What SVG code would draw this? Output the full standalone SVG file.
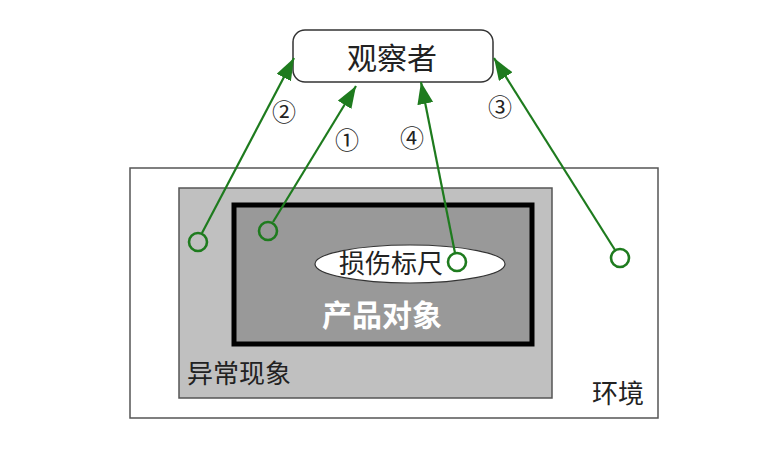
<svg xmlns="http://www.w3.org/2000/svg" width="779" height="449" viewBox="0 0 779 449">
<style>
.cjk{font-family:"Noto Sans CJK SC","Noto Sans",sans-serif;font-weight:400;}
.lbl{font-family:"Noto Sans CJK SC","DejaVu Sans",sans-serif;font-size:24px;fill:#222;font-weight:400;}
.conn{stroke:#1e7b1e;stroke-width:2.2;fill:none;}
.end{stroke:#1e7b1e;stroke-width:2.6;fill:none;}
</style>
<defs>
<marker id="arr" markerUnits="userSpaceOnUse" markerWidth="24" markerHeight="18" refX="22" refY="8" orient="auto">
<path d="M0,0 L22,8 L0,16 Z" fill="#1e7b1e"/>
</marker>
</defs>
<rect width="779" height="449" fill="#fff"/>
<g id="environment">
<rect x="130" y="168" width="528" height="250" fill="#fff" stroke="#555" stroke-width="1.5"/>
<text class="cjk" x="592" y="403" font-size="26" fill="#222">环境</text>
</g>
<g id="anomaly">
<rect x="179" y="188" width="373" height="210" fill="#c0c0c0" stroke="#555" stroke-width="1.5"/>
<text class="cjk" x="187" y="383" font-size="26" fill="#222">异常现象</text>
</g>
<g id="product">
<rect x="234" y="205" width="298" height="139" fill="#999" stroke="#000" stroke-width="5"/>
<text x="382" y="326" font-family="Noto Sans CJK SC, sans-serif" font-size="30" font-weight="bold" fill="#fff" text-anchor="middle">产品对象</text>
</g>
<g id="ruler">
<ellipse cx="410" cy="264" rx="95" ry="19" fill="#fff" stroke="#333" stroke-width="1.2"/>
<text class="cjk" x="391" y="273" font-size="26" fill="#222" text-anchor="middle">损伤标尺</text>
</g>
<g id="observer">
<rect x="293" y="30" width="200" height="52" rx="12" fill="#fff" stroke="#333" stroke-width="1.5"/>
<text class="cjk" x="392" y="69" font-size="30" fill="#222" text-anchor="middle">观察者</text>
</g>
<g id="connectors">
<line class="conn" x1="202" y1="233" x2="294" y2="58" marker-end="url(#arr)"/>
<circle class="end" cx="198" cy="242" r="9"/>
<line class="conn" x1="273" y1="222" x2="356" y2="86" marker-end="url(#arr)"/>
<circle class="end" cx="268" cy="231" r="9"/>
<line class="conn" x1="455" y1="253" x2="421" y2="82" marker-end="url(#arr)"/>
<circle class="end" cx="457" cy="262" r="9"/>
<line class="conn" x1="615" y1="250" x2="494" y2="58" marker-end="url(#arr)"/>
<circle class="end" cx="620" cy="258" r="9"/>
<text class="lbl" x="284" y="121" text-anchor="middle">②</text>
<text class="lbl" x="347" y="149" text-anchor="middle">①</text>
<text class="lbl" x="412" y="147" text-anchor="middle">④</text>
<text class="lbl" x="500" y="116" text-anchor="middle">③</text>
</g>
</svg>
